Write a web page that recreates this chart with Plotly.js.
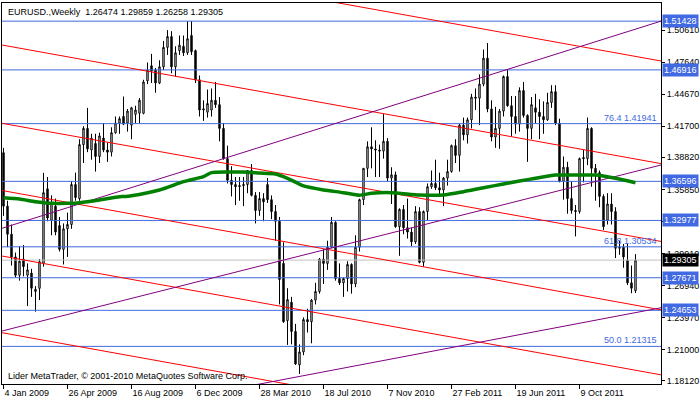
<!DOCTYPE html>
<html>
<head>
<meta charset="utf-8">
<script src="https://cdn.plot.ly/plotly-3.0.1.min.js"></script>
<style>html,body{margin:0;padding:0;background:#fff;}#chart{width:700px;height:402px;}</style>
</head>
<body>
<div id="chart"></div>
<script>
// ---- weekly OHLC (EURUSD, from week of 4 Jan 2009) ----
const open = [1.3925,1.3430,1.3170,1.2960,1.2790,1.2940,1.2790,1.2810,1.2640,1.2669,1.2900,1.3590,1.3300,1.3430,1.3250,1.3030,1.3220,1.3260,1.3630,1.3500,
1.4000,1.4150,1.3950,1.4010,1.3890,1.4060,1.3950,1.3930,1.4110,1.4200,1.4260,1.4200,1.4180,1.4280,1.4290,1.4290,1.4590,1.4730,1.4690,1.4570,
1.4720,1.4900,1.5000,1.4720,1.4870,1.4910,1.4850,1.5010,1.4870,1.4600,1.4320,1.4300,1.4320,1.4410,1.4370,1.4150,1.3870,1.3670,1.3630,1.3610,
1.3620,1.3630,1.3760,1.3530,1.3390,1.3500,1.3630,1.3490,1.3380,1.3290,1.2900,1.2370,1.2540,1.2270,1.1960,1.2080,1.2380,1.2360,1.2560,1.2640,
1.2940,1.2900,1.3050,1.3280,1.2760,1.2720,1.2760,1.2890,1.2710,1.3050,1.3490,1.3780,1.3980,1.3960,1.3950,1.3940,1.4030,1.3690,1.3720,1.3240,
1.3400,1.3230,1.3190,1.3100,1.3380,1.2910,1.3380,1.3610,1.3640,1.3600,1.3580,1.3690,1.3750,1.3990,1.3900,1.4180,1.4090,1.4230,1.4440,1.4430,
1.4560,1.4800,1.4330,1.4070,1.4150,1.4310,1.4630,1.4360,1.4260,1.4190,1.4500,1.4270,1.4150,1.4340,1.4300,1.4260,1.4230,1.4390,1.4490,1.4200,
1.3660,1.3790,1.3500,1.3390,1.3380,1.3880,1.3870,1.4150,1.3780,1.3740,1.3520,1.3300,1.3450,1.3380,1.3040,1.3050,1.2930,1.2720,1.26474];
const high = [1.3970,1.3480,1.3260,1.3000,1.3060,1.3070,1.2900,1.2850,1.2690,1.2940,1.3738,1.3700,1.3530,1.3500,1.3330,1.3270,1.3370,1.3660,1.3740,1.4050,
1.4170,1.4340,1.4100,1.4100,1.4110,1.4200,1.4020,1.4160,1.4260,1.4260,1.4445,1.4330,1.4350,1.4360,1.4430,1.4600,1.4760,1.4840,1.4710,1.4780,
1.4960,1.5060,1.5050,1.4910,1.5010,1.5010,1.5143,1.5145,1.4880,1.4640,1.4410,1.4510,1.4520,1.4580,1.4440,1.4200,1.3990,1.3800,1.3700,1.3700,
1.3700,1.3740,1.3820,1.3560,1.3560,1.3550,1.3690,1.3530,1.3440,1.3330,1.3095,1.2670,1.2590,1.2340,1.2150,1.2400,1.2480,1.2570,1.2720,1.2950,
1.3030,1.3110,1.3330,1.3290,1.2900,1.2770,1.2920,1.2900,1.3160,1.3500,1.3780,1.4030,1.4160,1.4040,1.4000,1.4282,1.4060,1.3790,1.3750,1.3410,
1.3440,1.3500,1.3230,1.3430,1.3420,1.3390,1.3640,1.3760,1.3860,1.3740,1.3700,1.3860,1.4000,1.4050,1.4190,1.4250,1.4250,1.4470,1.4520,1.4650,
1.4880,1.4940,1.4410,1.4350,1.4330,1.4640,1.4700,1.4450,1.4450,1.4530,1.4580,1.4280,1.4440,1.4470,1.4420,1.4400,1.4480,1.4550,1.4550,1.4240,
1.3890,1.3840,1.3660,1.3440,1.3880,1.3950,1.4250,1.4160,1.3820,1.3760,1.3540,1.3550,1.3550,1.3420,1.3110,1.3080,1.3080,1.2880,1.29859];
const low = [1.3340,1.3050,1.2880,1.2770,1.2740,1.2780,1.2505,1.2590,1.2453,1.2560,1.2870,1.3290,1.3160,1.3160,1.3010,1.2890,1.2960,1.3220,1.3480,1.3480,
1.3830,1.3930,1.3860,1.3750,1.3830,1.3930,1.3840,1.3890,1.4100,1.4100,1.4180,1.4120,1.4050,1.4200,1.4200,1.4280,1.4560,1.4570,1.4480,1.4560,
1.4690,1.4830,1.4660,1.4630,1.4830,1.4820,1.4830,1.4830,1.4570,1.4260,1.4220,1.4250,1.4260,1.4340,1.4030,1.3860,1.3640,1.3520,1.3440,1.3480,
1.3430,1.3550,1.3520,1.3270,1.3340,1.3290,1.3460,1.3310,1.3110,1.2520,1.2350,1.2145,1.2150,1.1960,1.1876,1.2050,1.2260,1.2160,1.2520,1.2620,
1.2710,1.2840,1.3040,1.2740,1.2700,1.2590,1.2640,1.2620,1.2680,1.3010,1.3440,1.3700,1.3780,1.3700,1.3700,1.3870,1.3660,1.3450,1.3230,1.2970,
1.3170,1.3130,1.3060,1.3080,1.2900,1.2870,1.3300,1.3590,1.3580,1.3530,1.3430,1.3620,1.3740,1.3830,1.3750,1.4040,1.4010,1.4150,1.4320,1.4180,
1.4540,1.4300,1.4030,1.3970,1.3960,1.4260,1.4350,1.4080,1.4100,1.4120,1.4250,1.3840,1.4050,1.4200,1.4050,1.4100,1.4220,1.4340,1.4180,1.3650,
1.3490,1.3360,1.3360,1.3150,1.3360,1.3650,1.3810,1.3610,1.3480,1.3420,1.3210,1.3260,1.3260,1.2950,1.2980,1.2860,1.2700,1.2624,1.26258];
const close = [1.3430,1.3170,1.2960,1.2790,1.2920,1.2870,1.2840,1.2670,1.2660,1.2916,1.3555,1.3320,1.3460,1.3190,1.3030,1.3220,1.3260,1.3630,1.3510,1.4000,
1.4150,1.3960,1.4060,1.3890,1.4080,1.3950,1.3930,1.4110,1.4200,1.4240,1.4190,1.4310,1.4340,1.4320,1.4410,1.4580,1.4690,1.4680,1.4570,1.4720,
1.4900,1.5000,1.4720,1.4850,1.4920,1.4850,1.4980,1.4860,1.4600,1.4320,1.4330,1.4380,1.4410,1.4370,1.4150,1.3870,1.3670,1.3630,1.3610,1.3620,
1.3630,1.3760,1.3530,1.3390,1.3500,1.3470,1.3490,1.3380,1.3290,1.2750,1.2360,1.2565,1.2270,1.1970,1.2080,1.2380,1.2360,1.2560,1.2640,1.2940,
1.2900,1.3050,1.3280,1.2760,1.2720,1.2760,1.2890,1.2710,1.3050,1.3490,1.3780,1.3980,1.3960,1.3950,1.3940,1.4030,1.3690,1.3720,1.3240,1.3400,
1.3230,1.3190,1.3100,1.3380,1.2910,1.3380,1.3610,1.3640,1.3600,1.3580,1.3690,1.3750,1.3990,1.3900,1.4180,1.4090,1.4230,1.4440,1.4430,1.4560,
1.4800,1.4330,1.4070,1.4150,1.4310,1.4630,1.4360,1.4260,1.4190,1.4500,1.4270,1.4150,1.4370,1.4300,1.4260,1.4230,1.4390,1.4490,1.4200,1.3660,
1.3790,1.3500,1.3390,1.3380,1.3870,1.3870,1.4150,1.3780,1.3740,1.3520,1.3240,1.3450,1.3380,1.3040,1.3050,1.2960,1.2720,1.2670,1.29305];

// ---- moving average (green), read at selected weeks ----
const maWeek  = [0,4,8,12,16,19,24,28,32,39,45,50,52,56,60,64,68,71,75,80,85,89,92,97,104,110,115,120,125,129,133,138,143,148,153,158];
const maValue = [1.3508,1.3496,1.3471,1.3456,1.3456,1.3462,1.3487,1.3512,1.3527,1.3580,1.3657,1.3703,1.3740,1.3746,1.3746,1.3737,1.3728,1.3688,1.3617,1.3580,
1.3555,1.3531,1.3549,1.3555,1.3533,1.3533,1.3564,1.3601,1.3635,1.3663,1.3688,1.3718,1.3718,1.3718,1.3688,1.3647];

// ---- horizontal levels ----
const blueLevels = [1.51428,1.46916,1.41941,1.36596,1.32977,1.30534,1.27671,1.24653,1.21315];
const boxedLevels = [1.51428,1.46916,1.36596,1.32977,1.27671,1.24653];
const fibNames = ['76.4','61.8','50.0'];
const fibLevels = [1.41941,1.30534,1.21315];
const bidPrice = 1.29305;

// ---- trend lines: price at left edge / right edge of the chart ----
const edgeWeeks = [-0.375, 164.375];
const redStart = [1.5872,1.4922,1.4197,1.3575,1.2968,1.2258];
const redEnd   = [1.4774,1.3824,1.3103,1.2470,1.1868,1.1160];
const purpleStart = [1.3225,1.2274,1.1330];
const purpleEnd   = [1.5143,1.3811,1.2489];

// ---- axes ----
const yTickVals = [1.18120,1.21000,1.23970,1.26940,1.29910,1.32880,1.35850,1.38820,1.41700,1.44670,1.47640,1.50610];
const yTickHidden = [1.32880];   // label covered by the 1.32977 marker in the reference
const xTickLabels = ['4 Jan 2009','26 Apr 2009','16 Aug 2009','6 Dec 2009','28 Mar 2010','18 Jul 2010','7 Nov 2010','27 Feb 2011','19 Jun 2011','9 Oct 2011'];
const xTickWeeks = [0,16,32,48,64,80,96,112,128,144];
const headerText = 'EURUSD.,Weekly  1.26474 1.29859 1.26258 1.29305';
const footerText = 'Lider MetaTrader, © 2001-2010 MetaQuotes Software Corp.';

const FONT = 'Liberation Sans, Arial, sans-serif';
const weekIdx = open.map((_, i) => i);

function segs(starts, ends) {
  const x = [], y = [];
  starts.forEach((s, k) => { x.push(edgeWeeks[0], edgeWeeks[1], null); y.push(s, ends[k], null); });
  return {x, y};
}
const hl = segs(blueLevels, blueLevels);
const rl = segs(redStart, redEnd);
const pl = segs(purpleStart, purpleEnd);
const bl = segs([bidPrice], [bidPrice]);

const traces = [
  {type:'candlestick', x: weekIdx, open, high, low, close,
   increasing:{line:{color:'#000', width:1}, fillcolor:'#ffffff'},
   decreasing:{line:{color:'#000', width:1}, fillcolor:'#000000'},
   whiskerwidth:0, hoverinfo:'skip', showlegend:false},
  {type:'scatter', mode:'lines', x: bl.x, y: bl.y, line:{color:'#C0C0C0', width:1}, hoverinfo:'skip', showlegend:false},
  {type:'scatter', mode:'lines', x: hl.x, y: hl.y, line:{color:'#4169E1', width:1}, hoverinfo:'skip', showlegend:false},
  {type:'scatter', mode:'lines', x: rl.x, y: rl.y, line:{color:'#FF0000', width:1}, hoverinfo:'skip', showlegend:false},
  {type:'scatter', mode:'lines', x: pl.x, y: pl.y, line:{color:'#800080', width:1}, hoverinfo:'skip', showlegend:false},
  {type:'scatter', mode:'lines', x: maWeek, y: maValue, line:{color:'#008000', width:3.5, shape:'spline', smoothing:0.6}, hoverinfo:'skip', showlegend:false}
];

const annotations = [];
boxedLevels.forEach(p => annotations.push({xref:'paper', x:1, xanchor:'left', xshift:1, yref:'y', y:p, yanchor:'middle',
  text:p.toFixed(5), showarrow:false, bgcolor:'#4169E1', borderpad:1, font:{family:FONT, size:9, color:'#ffffff'}}));
annotations.push({xref:'paper', x:1, xanchor:'left', xshift:1, yref:'y', y:bidPrice, yanchor:'middle',
  text:bidPrice.toFixed(5), showarrow:false, bgcolor:'#000000', borderpad:1, font:{family:FONT, size:9, color:'#ffffff'}});
fibLevels.forEach((p, k) => annotations.push({xref:'x', x:edgeWeeks[1], xanchor:'right', xshift:-2, yref:'y', y:p, yanchor:'bottom', yshift:-1,
  text: fibNames[k] + ' ' + p.toFixed(5), showarrow:false, font:{family:FONT, size:9, color:'#4169E1'}}));
annotations.push({xref:'paper', x:0, xanchor:'left', xshift:4, yref:'paper', y:1, yanchor:'top', yshift:-2,
  text: headerText.replace(/ /g,'&nbsp;'), showarrow:false, font:{family:FONT, size:9, color:'#000'}});
annotations.push({xref:'paper', x:0, xanchor:'left', xshift:4, yref:'paper', y:0, yanchor:'bottom', yshift:1,
  text: footerText, showarrow:false, font:{family:FONT, size:9, color:'#000'}});

const layout = {
  width:700, height:402,
  margin:{l:2, r:39, t:3, b:18, pad:0},
  paper_bgcolor:'#ffffff', plot_bgcolor:'#ffffff',
  font:{family:FONT, size:9, color:'#000'},
  showlegend:false, hovermode:false,
  xaxis:{range:[edgeWeeks[0], edgeWeeks[1]], rangeslider:{visible:false}, showgrid:false, zeroline:false,
    showline:true, mirror:true, linecolor:'#000', linewidth:1,
    tickmode:'array', tickvals:xTickWeeks, ticktext:xTickLabels, ticks:'outside', ticklen:4, tickcolor:'#000',
    ticklabelposition:'outside right', tickfont:{family:FONT, size:9, color:'#000'}},
  yaxis:{range:[1.178322, 1.53110], side:'right', showgrid:false, zeroline:false,
    showline:true, mirror:true, linecolor:'#000', linewidth:1,
    tickmode:'array', tickvals:yTickVals,
    ticktext:yTickVals.map(v => yTickHidden.includes(v) ? '' : v.toFixed(5)),
    ticks:'outside', ticklen:3, tickcolor:'#000',
    tickfont:{family:FONT, size:9, color:'#000'}},
  boxgap:0.5,
  annotations
};

Plotly.newPlot('chart', traces, layout, {staticPlot:true, displayModeBar:false});
</script>
</body>
</html>
